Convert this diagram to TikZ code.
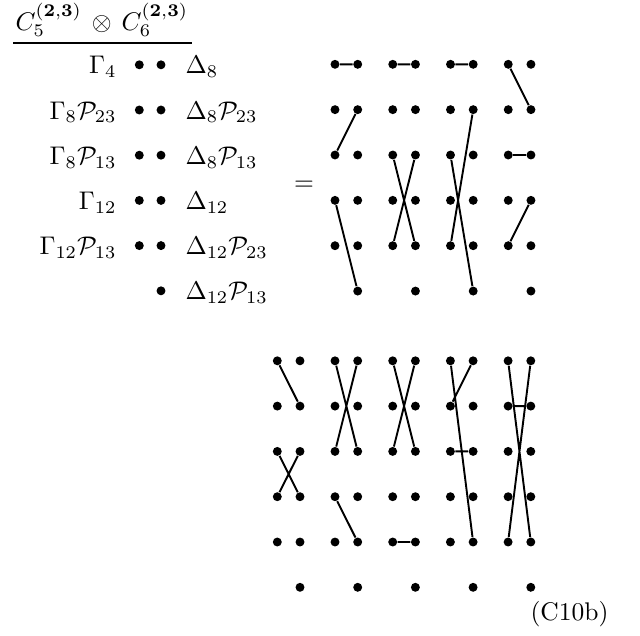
\documentclass[tikz,border=0pt]{standalone}
\usepackage{amsmath}
\begin{document}
\begin{tikzpicture}[x=0.392pt,y=-0.392pt,
  dot/.style={circle,fill=black,inner sep=0pt,minimum size=3.5pt},
  link/.style={line width=0.75pt},
  lab/.style={inner sep=0pt}]
\useasboundingbox (0,0) rectangle (640,635);
% title
\node[lab,anchor=base west] (title) at (15,30) {$C_5^{(\mathbf{2,3})}\,\otimes\, C_6^{(\mathbf{2,3})}$};
\coordinate (ul1) at (13,42.7);
\coordinate (ul2) at (192,42.7);
\draw[line width=0.7pt] (ul1) -- (ul2);
% label column
\foreach \r/\g/\d in {1/{\Gamma_4}/{\Delta_8},2/{\Gamma_8\mathcal{P}_{23}}/{\Delta_8\mathcal{P}_{23}},3/{\Gamma_8\mathcal{P}_{13}}/{\Delta_8\mathcal{P}_{13}},4/{\Gamma_{12}}/{\Delta_{12}},5/{\Gamma_{12}\mathcal{P}_{13}}/{\Delta_{12}\mathcal{P}_{23}}}{
  \node[lab,anchor=base east] (g\r) at (117,{64.8+45.2*(\r-1)+9}) {$\g$};
  \node[dot] (lL\r) at (139.3,{64.8+45.2*(\r-1)}) {};
  \node[dot] (lR\r) at (161,{64.8+45.2*(\r-1)}) {};
  \node[lab,anchor=base west] (d\r) at (185,{64.8+45.2*(\r-1)+9}) {$\d$};
}
\node[dot] (lR6) at (161,290.8) {};
\node[lab,anchor=base west] (d6) at (185,299.8) {$\Delta_{12}\mathcal{P}_{13}$};
% equals
\node[lab,anchor=base] (eq) at (304,190.2) {$=$};
% top grids
\foreach \p in {1,...,4}{
  \foreach \r in {1,...,5}{
    \node[dot] (t\p-L\r) at ({335+57.75*(\p-1)},{64.3+45.35*(\r-1)}) {};
    \node[dot] (t\p-R\r) at ({357.7+57.75*(\p-1)},{64.3+45.35*(\r-1)}) {};
  }
  \node[dot] (t\p-R6) at ({357.7+57.75*(\p-1)},291.05) {};
}
\draw[link] (t1-L1) -- (t1-R1) (t1-R2) -- (t1-L3) (t1-L4) -- (t1-R6);
\draw[link] (t2-L1) -- (t2-R1) (t2-L3) -- (t2-R5) (t2-R3) -- (t2-L5);
\draw[link] (t3-L1) -- (t3-R1) (t3-R2) -- (t3-L5) (t3-L3) -- (t3-R6);
\draw[link] (t4-L1) -- (t4-R2) (t4-L3) -- (t4-R3) (t4-R4) -- (t4-L5);
% bottom grids
\foreach \p in {1,...,5}{
  \foreach \r in {1,...,5}{
    \node[dot] (b\p-L\r) at ({277.3+57.7*(\p-1)},{360.8+45.3*(\r-1)}) {};
    \node[dot] (b\p-R\r) at ({300+57.7*(\p-1)},{360.8+45.3*(\r-1)}) {};
  }
  \node[dot] (b\p-R6) at ({300+57.7*(\p-1)},587.3) {};
}
\draw[link] (b1-L1) -- (b1-R2) (b1-L3) -- (b1-R4) (b1-R3) -- (b1-L4);
\draw[link] (b2-L1) -- (b2-R3) (b2-R1) -- (b2-L3) (b2-L4) -- (b2-R5);
\draw[link] (b3-L1) -- (b3-R3) (b3-R1) -- (b3-L3) (b3-L5) -- (b3-R5);
\draw[link] (b4-L1) -- (b4-R5) (b4-R1) -- (b4-L2) (b4-L3) -- (b4-R3);
\draw[link] (b5-L1) -- (b5-R5) (b5-R1) -- (b5-L5) (b5-L2) -- (b5-R2);
% tag
\node[lab,anchor=base west] (tag) at (530,620.6) {(C10b)};
\end{tikzpicture}
\end{document}
